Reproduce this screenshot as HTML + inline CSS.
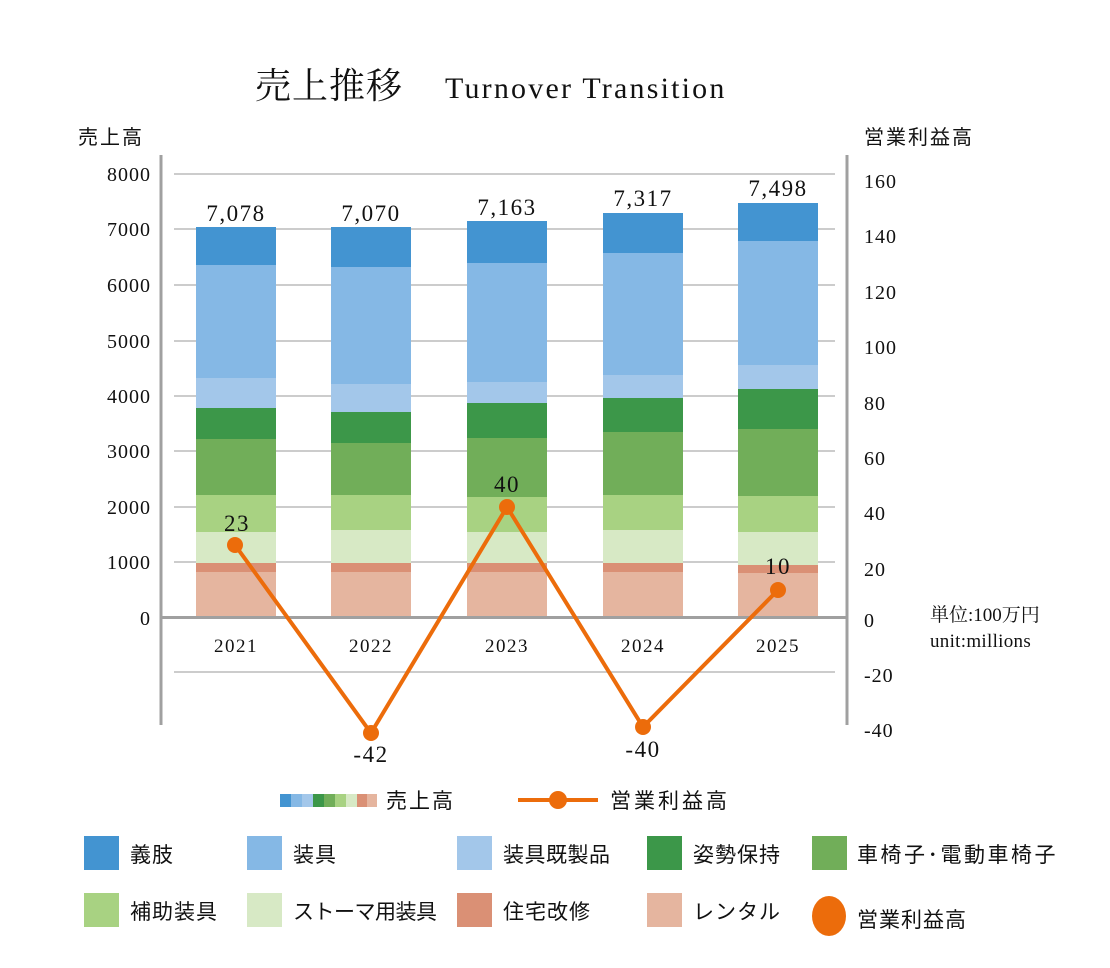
<!DOCTYPE html>
<html><head><meta charset="utf-8"><style>
body{margin:0;background:#fff}
svg{display:block}
.s{font-family:"Liberation Serif","Noto Serif CJK SC",serif}
.j{font-family:"Liberation Sans","Noto Sans CJK JP",sans-serif}
</style></head><body>
<svg width="1110" height="968" xmlns="http://www.w3.org/2000/svg">
<text x="255" y="98" class="s" font-size="36" fill="#111" letter-spacing="1">売上推移</text>
<text x="445" y="98" class="s" font-size="30" fill="#111" letter-spacing="2.2">Turnover Transition</text>
<text x="78" y="144" class="j" font-size="20" fill="#111" letter-spacing="2">売上高</text>
<text x="864" y="144" class="j" font-size="20" fill="#111" letter-spacing="2">営業利益高</text>
<g stroke="#bbb" stroke-width="1.5">
<line x1="174" x2="835" y1="174" y2="174"/><line x1="174" x2="835" y1="229" y2="229"/>
<line x1="174" x2="835" y1="285" y2="285"/><line x1="174" x2="835" y1="341" y2="341"/>
<line x1="174" x2="835" y1="396" y2="396"/><line x1="174" x2="835" y1="451" y2="451"/>
<line x1="174" x2="835" y1="507" y2="507"/><line x1="174" x2="835" y1="562" y2="562"/>
<line x1="174" x2="835" y1="672" y2="672"/>
</g>
<g class="s" font-size="20" fill="#111" text-anchor="end" letter-spacing="1">
<text x="151" y="181">8000</text><text x="151" y="236">7000</text><text x="151" y="292">6000</text>
<text x="151" y="348">5000</text><text x="151" y="403">4000</text><text x="151" y="458">3000</text>
<text x="151" y="514">2000</text><text x="151" y="569">1000</text><text x="151" y="625">0</text>
</g>
<g class="s" font-size="20" fill="#111" letter-spacing="1">
<text x="864" y="188">160</text><text x="864" y="243">140</text><text x="864" y="299">120</text>
<text x="864" y="354">100</text><text x="864" y="410">80</text><text x="864" y="465">60</text>
<text x="864" y="520">40</text><text x="864" y="576">20</text><text x="864" y="627">0</text>
<text x="864" y="682">-20</text><text x="864" y="737">-40</text>
<text x="930" y="621" font-size="19" letter-spacing="0">単位:100万円</text>
<text x="930" y="647" font-size="19" letter-spacing="0.3">unit:millions</text>
</g>
<g id="bars">
<g transform="translate(196,0)">
<rect y="227" height="38" width="80" fill="#4394d1"/><rect y="265" height="113" width="80" fill="#85b8e5"/>
<rect y="378" height="30" width="80" fill="#a3c7ea"/><rect y="408" height="31" width="80" fill="#3c9749"/>
<rect y="439" height="56" width="80" fill="#71ae59"/><rect y="495" height="37" width="80" fill="#a8d282"/>
<rect y="532" height="31" width="80" fill="#d7e9c5"/><rect y="563" height="9" width="80" fill="#da9075"/>
<rect y="572" height="45" width="80" fill="#e5b59f"/></g>
<g transform="translate(331,0)">
<rect y="227" height="40" width="80" fill="#4394d1"/><rect y="267" height="117" width="80" fill="#85b8e5"/>
<rect y="384" height="28" width="80" fill="#a3c7ea"/><rect y="412" height="31" width="80" fill="#3c9749"/>
<rect y="443" height="52" width="80" fill="#71ae59"/><rect y="495" height="35" width="80" fill="#a8d282"/>
<rect y="530" height="33" width="80" fill="#d7e9c5"/><rect y="563" height="9" width="80" fill="#da9075"/>
<rect y="572" height="45" width="80" fill="#e5b59f"/></g>
<g transform="translate(467,0)">
<rect y="221" height="42" width="80" fill="#4394d1"/><rect y="263" height="119" width="80" fill="#85b8e5"/>
<rect y="382" height="21" width="80" fill="#a3c7ea"/><rect y="403" height="35" width="80" fill="#3c9749"/>
<rect y="438" height="59" width="80" fill="#71ae59"/><rect y="497" height="35" width="80" fill="#a8d282"/>
<rect y="532" height="31" width="80" fill="#d7e9c5"/><rect y="563" height="9" width="80" fill="#da9075"/>
<rect y="572" height="45" width="80" fill="#e5b59f"/></g>
<g transform="translate(603,0)">
<rect y="213" height="40" width="80" fill="#4394d1"/><rect y="253" height="122" width="80" fill="#85b8e5"/>
<rect y="375" height="23" width="80" fill="#a3c7ea"/><rect y="398" height="34" width="80" fill="#3c9749"/>
<rect y="432" height="63" width="80" fill="#71ae59"/><rect y="495" height="35" width="80" fill="#a8d282"/>
<rect y="530" height="33" width="80" fill="#d7e9c5"/><rect y="563" height="9" width="80" fill="#da9075"/>
<rect y="572" height="45" width="80" fill="#e5b59f"/></g>
<g transform="translate(738,0)">
<rect y="203" height="38" width="80" fill="#4394d1"/><rect y="241" height="124" width="80" fill="#85b8e5"/>
<rect y="365" height="24" width="80" fill="#a3c7ea"/><rect y="389" height="40" width="80" fill="#3c9749"/>
<rect y="429" height="67" width="80" fill="#71ae59"/><rect y="496" height="36" width="80" fill="#a8d282"/>
<rect y="532" height="33" width="80" fill="#d7e9c5"/><rect y="565" height="8" width="80" fill="#da9075"/>
<rect y="573" height="44" width="80" fill="#e5b59f"/></g>
</g>
<g stroke="#a0a0a0" stroke-width="3">
<line x1="161" y1="155" x2="161" y2="725"/><line x1="847" y1="155" x2="847" y2="725"/>
<line x1="160" y1="617.5" x2="847" y2="617.5"/>
</g>
<g class="s" font-size="23" fill="#111" text-anchor="middle" letter-spacing="1.5">
<text x="236" y="221">7,078</text><text x="371" y="221">7,070</text><text x="507" y="215">7,163</text>
<text x="643" y="206">7,317</text><text x="778" y="196">7,498</text>
<text x="237" y="531">23</text><text x="507" y="492">40</text><text x="778" y="574">10</text>
<text x="371" y="762">-42</text><text x="643" y="757">-40</text>
</g>
<g class="s" font-size="19" fill="#111" text-anchor="middle" letter-spacing="1.5">
<text x="236" y="652">2021</text><text x="371" y="652">2022</text><text x="507" y="652">2023</text>
<text x="643" y="652">2024</text><text x="778" y="652">2025</text>
</g>
<polyline points="235,545 371,733 507,507 643,727 778,590" fill="none" stroke="#ec6c0b" stroke-width="4"/>
<g fill="#ec6c0b"><circle cx="235" cy="545" r="8"/><circle cx="371" cy="733" r="8"/><circle cx="507" cy="507" r="8"/><circle cx="643" cy="727" r="8"/><circle cx="778" cy="590" r="8"/></g>
<g>
<rect x="280" y="794" width="11" height="13" fill="#4394d1"/><rect x="291" y="794" width="11" height="13" fill="#85b8e5"/>
<rect x="302" y="794" width="11" height="13" fill="#a3c7ea"/><rect x="313" y="794" width="11" height="13" fill="#3c9749"/>
<rect x="324" y="794" width="11" height="13" fill="#71ae59"/><rect x="335" y="794" width="11" height="13" fill="#a8d282"/>
<rect x="346" y="794" width="11" height="13" fill="#d7e9c5"/><rect x="357" y="794" width="10" height="13" fill="#da9075"/>
<rect x="367" y="794" width="10" height="13" fill="#e5b59f"/>
</g>
<text x="386" y="808" class="j" font-size="21" fill="#111" letter-spacing="2">売上高</text>
<line x1="518" y1="800" x2="598" y2="800" stroke="#ec6c0b" stroke-width="4"/>
<circle cx="558" cy="800" r="9" fill="#ec6c0b"/>
<text x="610" y="808" class="j" font-size="21" fill="#111" letter-spacing="3">営業利益高</text>
<g class="j" font-size="21" fill="#111" letter-spacing="1">
<rect x="84" y="836" width="35" height="34" fill="#4394d1"/><text x="130" y="862">義肢</text>
<rect x="247" y="836" width="35" height="34" fill="#85b8e5"/><text x="293" y="862">装具</text>
<rect x="457" y="836" width="35" height="34" fill="#a3c7ea"/><text x="503" y="862" letter-spacing="0.5">装具既製品</text>
<rect x="647" y="836" width="35" height="34" fill="#3c9749"/><text x="693" y="862">姿勢保持</text>
<rect x="812" y="836" width="35" height="34" fill="#71ae59"/><text x="857" y="862" letter-spacing="2.5">車椅子･電動車椅子</text>
<rect x="84" y="893" width="35" height="34" fill="#a8d282"/><text x="130" y="919">補助装具</text>
<rect x="247" y="893" width="35" height="34" fill="#d7e9c5"/><text x="293" y="919" letter-spacing="-0.5">ストーマ用装具</text>
<rect x="457" y="893" width="35" height="34" fill="#da9075"/><text x="503" y="919">住宅改修</text>
<rect x="647" y="893" width="35" height="34" fill="#e5b59f"/><text x="693" y="919">レンタル</text>
<ellipse cx="829" cy="916" rx="17" ry="20" fill="#ec6c0b"/><text x="857" y="927">営業利益高</text>
</g>
</svg>
</body></html>
